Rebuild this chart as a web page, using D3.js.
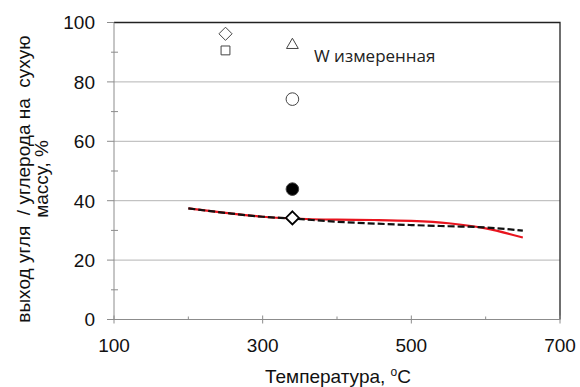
<!DOCTYPE html>
<html>
<head>
<meta charset="utf-8">
<script src="https://cdn.jsdelivr.net/npm/d3@7"></script>
<style>
  body { margin: 0; background: #fff; }
  svg text { font-family: 'Liberation Sans', Arial, sans-serif; }
</style>
</head>
<body>
<div id="chart"></div>
<script>
// curve data (temperature, yield %)
const redTemp = [200, 250, 300, 340, 400, 450, 500, 550, 600, 650]
const redVal = [37.4, 35.9, 34.6, 34.0, 33.6, 33.5, 33.2, 32.4, 30.7, 27.6]
const dashTemp = [200, 250, 300, 340, 400, 450, 500, 550, 600, 650]
const dashVal = [37.4, 35.9, 34.6, 34.0, 32.9, 32.3, 31.8, 31.4, 31.0, 29.9]

// single measured points
const points = [
  { t: 250, v: 96.2, shape: 'diamond', fill: 'none' },
  { t: 250, v: 90.6, shape: 'square', fill: 'none' },
  { t: 340, v: 92.4, shape: 'triangle', fill: 'none' },
  { t: 340, v: 74.2, shape: 'circle', fill: 'none' },
  { t: 340, v: 43.9, shape: 'circle', fill: '#000' },
  { t: 340, v: 34.2, shape: 'diamond', fill: '#fff' }
]

const xTicks = [100, 300, 500, 700]
const xMinor = [200, 400, 600]
const yTicks = [0, 20, 40, 60, 80, 100]
const yMinor = [10, 30, 50, 70, 90]

const width = 580
const height = 387
const margin = { top: 22.5, right: 20, bottom: 67.5, left: 114 }

const svg = d3.select('#chart').append('svg')
  .attr('width', width)
  .attr('height', height)

const x = d3.scaleLinear().domain([100, 700]).range([margin.left, width - margin.right])
const y = d3.scaleLinear().domain([0, 100]).range([height - margin.bottom, margin.top])

// gridlines
svg.append('g')
  .selectAll('line')
  .data(yTicks.filter(d => d > 0 && d < 100))
  .join('line')
  .attr('x1', x(100)).attr('x2', x(700))
  .attr('y1', d => y(d)).attr('y2', d => y(d))
  .attr('stroke', '#b4b4b4')
  .attr('stroke-width', 1)

// plot border top / right
svg.append('path')
  .attr('d', `M${x(100)},${y(100)}H${x(700)}V${y(0)}`)
  .attr('fill', 'none')
  .attr('stroke', '#222')
  .attr('stroke-width', 1.3)

// y axis
const yAxis = svg.append('g')
yAxis.append('line')
  .attr('x1', x(100)).attr('x2', x(100))
  .attr('y1', y(0)).attr('y2', y(100))
  .attr('stroke', '#8c8c8c')
yAxis.selectAll('.major')
  .data(yTicks)
  .join('line')
  .attr('class', 'major')
  .attr('x1', x(100) - 7).attr('x2', x(100))
  .attr('y1', d => y(d)).attr('y2', d => y(d))
  .attr('stroke', '#8c8c8c')
yAxis.selectAll('.minor')
  .data(yMinor)
  .join('line')
  .attr('class', 'minor')
  .attr('x1', x(100) - 3).attr('x2', x(100) + 4)
  .attr('y1', d => y(d)).attr('y2', d => y(d))
  .attr('stroke', '#8c8c8c')
yAxis.selectAll('text')
  .data(yTicks)
  .join('text')
  .attr('x', 95)
  .attr('y', d => y(d))
  .attr('dy', '0.36em')
  .attr('text-anchor', 'end')
  .attr('font-size', 19)
  .attr('fill', '#111')
  .text(d => d)

// x axis
const xAxis = svg.append('g')
xAxis.append('line')
  .attr('x1', x(100)).attr('x2', x(700))
  .attr('y1', y(0)).attr('y2', y(0))
  .attr('stroke', '#8c8c8c')
xAxis.selectAll('.major')
  .data(xTicks)
  .join('line')
  .attr('class', 'major')
  .attr('x1', d => x(d)).attr('x2', d => x(d))
  .attr('y1', y(0) - 4).attr('y2', y(0) + 4)
  .attr('stroke', '#8c8c8c')
xAxis.selectAll('.minor')
  .data(xMinor)
  .join('line')
  .attr('class', 'minor')
  .attr('x1', d => x(d)).attr('x2', d => x(d))
  .attr('y1', y(0) - 3).attr('y2', y(0))
  .attr('stroke', '#8c8c8c')
xAxis.selectAll('text')
  .data(xTicks)
  .join('text')
  .attr('x', d => x(d))
  .attr('y', 352)
  .attr('text-anchor', 'middle')
  .attr('font-size', 19)
  .attr('fill', '#111')
  .text(d => d)

// axis titles
const xt = svg.append('text')
  .attr('x', 338)
  .attr('y', 383)
  .attr('text-anchor', 'middle')
  .attr('font-size', 19)
  .attr('fill', '#111')
xt.append('tspan').text('Температура, ')
xt.append('tspan').attr('font-size', 12).attr('dy', -7).text('o')
xt.append('tspan').attr('dy', 7).text('C')

const yt = svg.append('text')
  .attr('transform', 'translate(30,179) rotate(-90)')
  .attr('text-anchor', 'middle')
  .attr('font-size', 19)
  .attr('fill', '#111')
yt.append('tspan').attr('x', 0).attr('y', 0).attr('xml:space', 'preserve').text('выход угля  / углерода на  сухую')
yt.append('tspan').attr('x', 0).attr('y', 18).text('массу, %')

// curves
const line = d3.line().x(d => x(d[0])).y(d => y(d[1])).curve(d3.curveMonotoneX)

svg.append('path')
  .datum(d3.zip(redTemp, redVal))
  .attr('d', line)
  .attr('fill', 'none')
  .attr('stroke', '#e8141e')
  .attr('stroke-width', 2.2)

svg.append('path')
  .datum(d3.zip(dashTemp, dashVal))
  .attr('d', line)
  .attr('fill', 'none')
  .attr('stroke', '#111')
  .attr('stroke-width', 2.2)
  .attr('stroke-dasharray', '7,3')

// markers
const symbols = {
  diamond: d3.symbol().type(d3.symbolDiamond2).size(110),
  square: d3.symbol().type(d3.symbolSquare2).size(100),
  triangle: d3.symbol().type(d3.symbolTriangle2).size(100),
  circle: d3.symbol().type(d3.symbolCircle).size(125)
}

svg.append('g')
  .selectAll('path')
  .data(points)
  .join('path')
  .attr('transform', d => `translate(${x(d.t)},${y(d.v)})`)
  .attr('d', d => symbols[d.shape]())
  .attr('fill', d => d.fill)
  .attr('stroke', d => d.shape === 'diamond' && d.fill === '#fff' ? '#000' : '#444')
  .attr('stroke-width', d => d.shape === 'diamond' && d.fill === '#fff' ? 1.8 : 1)

// legend label
svg.append('text')
  .attr('x', 314)
  .attr('y', 62)
  .style('font-family', "'Open Sans', sans-serif")
  .attr('font-size', 17)
  .attr('fill', '#222')
  .text('W измеренная')
</script>
</body>
</html>
